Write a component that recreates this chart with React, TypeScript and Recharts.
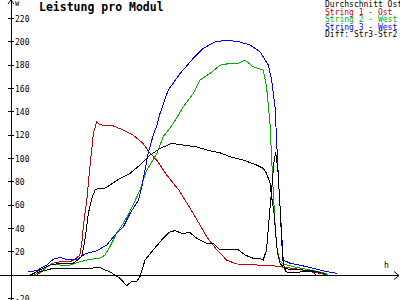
import React from "react";
import {
  LineChart,
  Line,
  XAxis,
  YAxis,
  Customized,
} from "recharts";

// [hour, W]
const ostPts = [
  [8.7, 0], [8.97, 6], [9.18, 10], [9.45, 11.7], [9.77, 11.7], [9.92, 13.7],
  [10.08, 17.4], [10.14, 27], [10.19, 41.7], [10.24, 53], [10.3, 64.5],
  [10.4, 93], [10.51, 121.7], [10.62, 131.7], [10.72, 129], [11.15, 128],
  [11.47, 124.5], [11.79, 120], [12.1, 113], [12.32, 104.6], [12.53, 98.8],
  [12.85, 86], [13.24, 73], [13.7, 53], [14.13, 33], [14.45, 21.7],
  [14.77, 13], [15.08, 9.7], [15.72, 8.8], [16.25, 8.2], [17.0, 5.4],
  [17.43, 3], [17.74, 1.7], [17.95, 0.5],
];

const west2Pts = [
  [8.6, 0], [8.91, 4.5], [9.18, 10], [9.45, 8.8], [9.77, 8.8], [10.08, 11.7],
  [10.4, 13.7], [10.72, 14.6], [10.88, 17.4], [11.04, 24.5], [11.25, 36],
  [11.47, 44.6], [11.68, 55], [12.0, 73], [12.21, 90], [12.53, 104],
  [12.74, 118.8], [13.06, 130], [13.38, 144.5], [13.7, 156], [13.91, 167.4],
  [14.23, 173], [14.55, 180], [14.87, 181.7], [15.14, 181.7], [15.35, 184.5],
  [15.61, 178.8], [15.93, 176], [16.04, 161.7], [16.15, 130], [16.2, 101.7],
  [16.25, 73], [16.31, 44.6], [16.36, 24.5], [16.47, 12], [16.57, 9.5],
  [16.9, 7.4], [17.43, 4.5], [17.85, 2.3], [18.0, 0.5],
];

const west3Pts = [
  [8.43, 3], [8.7, 4], [9.02, 8.8], [9.23, 13.7], [9.45, 15.4], [9.71, 13.1],
  [9.98, 13.1], [10.24, 18.3], [10.62, 21], [10.94, 26], [11.2, 34.5],
  [11.47, 41.7], [11.68, 53], [11.95, 64.5], [12.05, 75], [12.26, 104.6],
  [12.42, 120], [12.53, 128], [12.64, 138.9], [12.9, 158.8], [13.28, 173],
  [13.7, 186], [14.02, 194.6], [14.39, 200], [14.77, 201.7], [15.19, 200],
  [15.51, 197.4], [15.83, 191.7], [16.1, 180], [16.2, 167.4], [16.31, 144.5],
  [16.36, 116], [16.41, 87.4], [16.47, 58.8], [16.52, 36], [16.57, 13],
  [16.68, 11.7], [16.79, 10.3], [17.32, 7.4], [17.74, 4.5], [18.0, 3],
  [18.28, 1.7],
];

const avgPts = [
  [8.49, 0], [8.81, 4.5], [9.13, 8.8], [9.45, 10.3], [9.87, 10.3],
  [10.14, 16], [10.24, 30], [10.35, 53], [10.45, 65], [10.56, 73],
  [10.67, 74.6], [10.88, 74.6], [11.04, 77.4], [11.36, 83], [11.68, 87.4],
  [12.0, 94.5], [12.32, 103], [12.64, 108.8], [13.01, 113], [13.38, 111.7],
  [13.81, 110], [14.23, 106.8], [14.55, 105], [14.87, 101.7], [15.3, 98.8],
  [15.72, 94.5], [15.93, 91.7], [16.04, 87.4], [16.15, 78.8], [16.2, 67.4],
  [16.28, 53], [16.33, 36], [16.39, 18.9], [16.47, 10.3], [16.6, 6],
  [16.8, 5], [17.2, 4.5], [17.6, 3.5], [17.9, 1],
];

const diffPts = [
  [8.7, 2.3], [8.81, 3], [9.23, 6], [9.77, 6], [10.3, 6], [10.72, 6.5],
  [10.88, 4.5], [11.04, 3], [11.2, 0], [11.36, -2.6], [11.57, -8.9],
  [11.73, -5.5], [11.9, -5], [12.0, -1], [12.16, 13], [12.42, 21.7],
  [12.74, 31.7], [12.96, 37.4], [13.12, 38.2], [13.33, 36], [13.6, 36.5],
  [13.81, 31.7], [14.13, 27.4], [14.34, 27.4], [14.55, 21.7], [15.14, 21.7],
  [15.35, 17.4], [15.61, 14.6], [15.83, 14.6], [15.93, 13], [16.04, 21.7],
  [16.09, 38.8], [16.2, 73], [16.27, 96], [16.33, 106], [16.41, 87.4],
  [16.47, 58.8], [16.52, 30], [16.57, 10.3], [16.65, 3], [16.8, 2],
  [17.2, 3], [17.55, 3], [17.6, 0],
];

const xTicks = [8, 10, 12, 14, 16, 18, 20];
const yTicks = [-20, 20, 40, 60, 80, 100, 120, 140, 160, 180, 200, 220];

const legendItems = [
  { label: "Durchschnitt Ost", color: "#000000" },
  { label: "String 1 - Ost", color: "#c80000" },
  { label: "String 2 - West", color: "#00b000" },
  { label: "String 3 - West", color: "#0000f0" },
  { label: "Diff: Str3-Str2", color: "#000000" },
];

const W = 400;
const H = 300;
const AXIS_X = 11;
const X_DOMAIN = [7.88, 20.3];
const Y_MIN = -21.2;
const Y_MAX = 236;
const zeroY = Math.round((Y_MAX / (Y_MAX - Y_MIN)) * H) + 0.5;
const FONT = "'DejaVu Sans Mono', monospace";

const toData = (pts: number[][]) => pts.map(([t, v]) => ({ t, v }));

const pad = (n: number) => (n < 10 ? "0" + n : "" + n) + ":00";

const XTick = ({ x, payload }: any) => (
  <g>
    <line x1={x} x2={x} y1={zeroY - 3} y2={zeroY + 3} stroke="#000" shapeRendering="crispEdges" />
    <text x={x - 1} y={zeroY + 10} fontSize={8} fontFamily={FONT} fill="#000">
      {pad(payload.value)}
    </text>
  </g>
);

const YTick = ({ y, payload }: any) => (
  <g>
    <line x1={AXIS_X - 3} x2={AXIS_X + 3} y1={y} y2={y} stroke="#000" shapeRendering="crispEdges" />
    <text x={AXIS_X + 4} y={y + 3} fontSize={8} fontFamily={FONT} fill="#000">
      {payload.value}
    </text>
  </g>
);

const Overlay = () => (
  <g fontFamily={FONT}>
    <line x1={0} x2={399} y1={zeroY} y2={zeroY} stroke="#000" shapeRendering="crispEdges" />
    <polyline points={`394,${zeroY - 4} 399,${zeroY} 394,${zeroY + 4}`} fill="none" stroke="#000" />
    <polyline points={`${AXIS_X - 3},4 ${AXIS_X},0 ${AXIS_X + 3},4`} fill="none" stroke="#000" />
    <text x={15} y={6} fontSize={7} fill="#000">W</text>
    <text x={384} y={268} fontSize={8} fill="#000">h</text>
    <text x={39} y={11} fontSize={11.5} fontWeight="bold" fill="#000">
      Leistung pro Modul
    </text>
    {legendItems.map((item, i) => (
      <text key={item.label} x={325} y={7 + i * 7.6} fontSize={8} fill={item.color}>
        {item.label}
      </text>
    ))}
  </g>
);

const lineProps = {
  dataKey: "v",
  strokeWidth: 1,
  dot: false,
  isAnimationActive: false,
  shapeRendering: "crispEdges",
};

export default function App() {
  return (
    <div style={{ position: "absolute", left: 0, top: 0, width: W, height: H, background: "#fff" }}>
      <LineChart width={W} height={H} margin={{ top: 0, right: 0, bottom: 0, left: 0 }}>
        <XAxis
          dataKey="t"
          type="number"
          domain={X_DOMAIN}
          allowDataOverflow
          ticks={xTicks}
          interval={0}
          height={0}
          axisLine={false}
          tickLine={false}
          tick={<XTick />}
        />
        <YAxis
          type="number"
          domain={[Y_MIN, Y_MAX]}
          allowDataOverflow
          ticks={yTicks}
          interval={0}
          width={AXIS_X}
          axisLine={{ stroke: "#000", shapeRendering: "crispEdges" }}
          tickLine={false}
          tick={<YTick />}
        />
        <Line {...lineProps} data={toData(ostPts)} stroke="#c80000" />
        <Line {...lineProps} data={toData(west2Pts)} stroke="#00b000" />
        <Line {...lineProps} data={toData(west3Pts)} stroke="#0000f0" />
        <Line {...lineProps} data={toData(avgPts)} stroke="#000" />
        <Line {...lineProps} data={toData(diffPts)} stroke="#000" />
        <Customized component={Overlay} />
      </LineChart>
    </div>
  );
}
